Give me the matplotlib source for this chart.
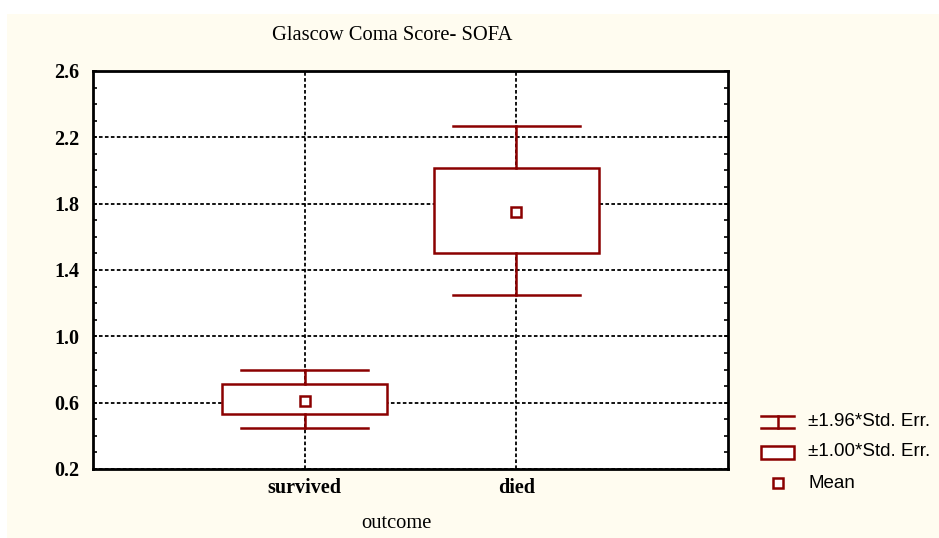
import matplotlib
matplotlib.use("Agg")
import matplotlib.pyplot as plt
from matplotlib.lines import Line2D
from matplotlib.patches import Rectangle
from matplotlib.ticker import MultipleLocator

categories = ["survived", "died"]
means = [0.61, 1.75]
box_low = [0.532, 1.503]
box_high = [0.711, 2.015]
whisk_low = [0.449, 1.249]
whisk_high = [0.797, 2.269]
yticks = [0.2, 0.6, 1.0, 1.4, 1.8, 2.2, 2.6]
legend_labels = ["\u00b11.96*Std. Err.", "\u00b11.00*Std. Err.", "Mean"]

RED = "#8b0000"
CREAM = "#fffcf0"
SERIF = ["Liberation Serif", "DejaVu Serif"]
SANS = ["Liberation Sans", "DejaVu Sans"]

W, H = 939, 538
fig = plt.figure(figsize=(W / 100, H / 100), dpi=100)
fig.patch.set_facecolor("white")
fig.add_artist(Rectangle((7 / W, 0), 1 - 7 / W, 1 - 14 / H, transform=fig.transFigure,
                         facecolor=CREAM, edgecolor="none", zorder=-10))

ax = fig.add_axes([93 / W, 1 - 469 / H, (728 - 93) / W, (469 - 71) / H])
ax.set_facecolor("white")
ax.set_xlim(0, 3)
ax.set_ylim(0.2, 2.6)

xs = list(range(1, len(categories) + 1))
bw = 0.39
cw = 0.30
for x, m, bl, bh, wl, wh in zip(xs, means, box_low, box_high, whisk_low, whisk_high):
    ax.add_patch(Rectangle((x - bw, bl), 2 * bw, bh - bl, facecolor="white",
                           edgecolor=RED, lw=1.8, zorder=3))
    ax.plot([x, x], [bh, wh], color=RED, lw=1.8, zorder=3)
    ax.plot([x, x], [wl, bl], color=RED, lw=1.8, zorder=3)
    ax.plot([x - cw, x + cw], [wh, wh], color=RED, lw=1.8, zorder=3)
    ax.plot([x - cw, x + cw], [wl, wl], color=RED, lw=1.8, zorder=3)
    ax.plot([x], [m], marker="s", ms=7, mfc="white", mec=RED, mew=1.8, zorder=4)

ax.set_xticks(xs)
ax.set_xticklabels([])
ax.set_yticks(yticks)
ax.set_yticklabels([f"{v:.1f}" for v in yticks], fontfamily=SERIF, fontweight="bold", fontsize=14.5)
ax.yaxis.set_minor_locator(MultipleLocator(0.1))
ax.tick_params(axis="y", which="both", direction="in", left=True, right=True,
               length=3, width=1.2, pad=10, color="black")
ax.tick_params(axis="x", which="both", length=0)
ax.grid(True, which="major", color="black", linestyle=(0, (2.0, 1.3)), linewidth=1.3)
ax.set_axisbelow(True)
for s in ax.spines.values():
    s.set_linewidth(2.0)
    s.set_color("black")

for x, c in zip(xs, categories):
    fx = ax.transData.transform((x, 0.2))[0] / W
    fig.text(fx, 1 - 488 / H, c, ha="center", va="center", fontfamily=SERIF,
             fontweight="bold", fontsize=14.5)

fig.text(392.5 / W, 1 - 35 / H, "Glascow Coma Score- SOFA", ha="center", va="center",
         fontfamily=SERIF, fontsize=14.8)
fig.text(396 / W, 1 - 523 / H, "outcome", ha="center", va="center",
         fontfamily=SERIF, fontsize=14.8)

# legend
def fx(px):
    return px / W

def fy(py):
    return 1 - py / H

T = fig.transFigure
fig.add_artist(Line2D([fx(761), fx(794)], [fy(416), fy(416)], color=RED, lw=1.8, transform=T))
fig.add_artist(Line2D([fx(761), fx(794)], [fy(428), fy(428)], color=RED, lw=1.8, transform=T))
fig.add_artist(Line2D([fx(777.5), fx(777.5)], [fy(416), fy(428)], color=RED, lw=1.8, transform=T))
fig.add_artist(Rectangle((fx(761), fy(459)), fx(794) - fx(761), fy(446) - fy(459),
                         facecolor="white", edgecolor=RED, lw=1.8, transform=T))
fig.add_artist(Rectangle((fx(773), fy(488)), fx(783) - fx(773), fy(478) - fy(488),
                         facecolor="white", edgecolor=RED, lw=1.8, transform=T))
for lab, py in zip(legend_labels, [422, 452, 483]):
    fig.text(fx(808), fy(py), lab, ha="left", va="center", fontfamily=SANS, fontsize=13.5)

fig.savefig("out.png", dpi=100, facecolor=fig.get_facecolor())
